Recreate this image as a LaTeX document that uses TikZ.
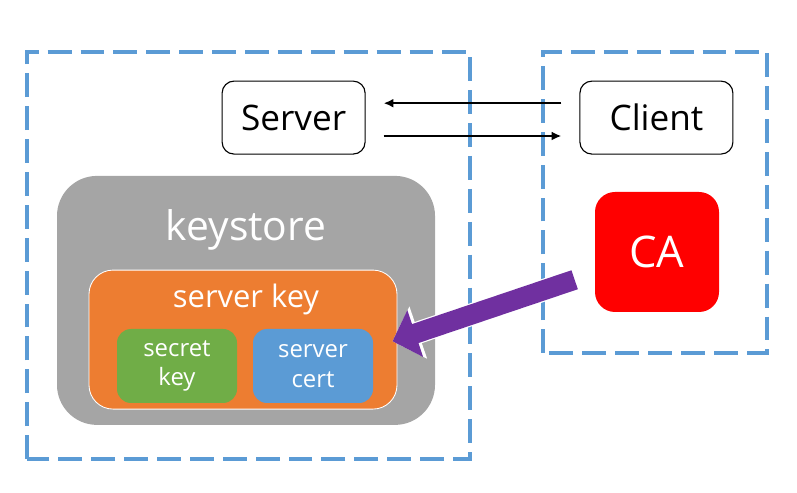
\documentclass[tikz,border=0pt]{standalone}
\usepackage{fontspec}
\setmainfont{Open Sans}
\usetikzlibrary{arrows.meta}
\definecolor{frameblue}{HTML}{5B9BD5}
\definecolor{storegrey}{HTML}{A5A5A5}
\definecolor{keyorange}{HTML}{ED7D31}
\definecolor{secretgreen}{HTML}{70AD47}
\definecolor{certblue}{HTML}{5B9BD5}
\definecolor{cared}{HTML}{FF0000}
\definecolor{certpurple}{HTML}{7030A0}
\begin{document}
\begin{tikzpicture}[
	frame/.style={draw=frameblue, line width=2.2pt, dash pattern=on 17pt off 6.4pt},
	hostbox/.style={rectangle, draw, line width=0.8pt, rounded corners=0.3cm, minimum height=1.825cm, inner sep=0pt, font=\fontsize{25}{30}\selectfont},
	keystorebox/.style={rectangle, fill=storegrey, rounded corners=1cm, minimum width=9.45cm, minimum height=6.225cm, inner sep=0pt},
	serverkeybox/.style={rectangle, fill=keyorange, draw=white, line width=0.6pt, rounded corners=0.6cm, minimum width=7.7cm, minimum height=3.475cm, inner sep=0pt},
	leafbox/.style={rectangle, rounded corners=0.35cm, minimum width=3cm, minimum height=1.85cm, inner sep=0pt, align=center, text=white, font=\fontsize{17}{21}\selectfont},
	cabox/.style={rectangle, fill=cared, rounded corners=0.5cm, minimum width=3.1cm, minimum height=3cm, inner sep=0pt, text=white, font=\fontsize{31}{36}\selectfont},
	title/.style={anchor=base, text=white, inner sep=0pt},
	msg/.style={-{Latex[length=0.24cm,width=0.22cm]}, line width=1.3pt, shorten <=0.45cm, shorten >=0.45cm},
	certarrow/.style={draw=certpurple, line width=0.5cm, -{Triangle[length=0.6cm,width=1.2cm]}, shorten <=0.53cm, shorten >=-0.13cm,
		preaction={draw=white, line width=0.56cm, -{Triangle[length=0.68cm,width=1.34cm]}}}
]
	\useasboundingbox (0,0) rectangle (19.925,12.3);
	\draw[frame] (0.675,0.825) rectangle (11.75,11.0);
	\draw[frame] (13.575,3.475) rectangle (19.175,11.0);
	\draw (7.34, 9.36) node[hostbox, minimum width=3.575cm] (Server) {Server};
	\draw (16.41,9.36) node[hostbox, minimum width=3.825cm] (Client) {Client};
	\draw (6.15, 4.79) node[keystorebox] (KS) {};
	\draw (6.15, 6.275) node[title, font=\fontsize{29}{34}\selectfont] (KStitle) {keystore};
	\draw (6.075,3.81) node[serverkeybox] (SK) {};
	\draw (6.15, 4.6) node[title, font=\fontsize{22}{26}\selectfont] (SKtitle) {server key};
	\draw (4.425,3.15) node[leafbox, fill=secretgreen] (Secret) {secret\\key};
	\draw (7.825,3.15) node[leafbox, fill=certblue] (Cert) {server\\cert};
	\draw (16.425,6.0) node[cabox] (CA) {CA};
	\draw ([yshift=0.36cm]Client.west) edge[msg] ([yshift=0.36cm]Server.east);
	\draw ([yshift=-0.46cm]Server.east) edge[msg] ([yshift=-0.46cm]Client.west);
	\draw (CA) edge[certarrow] (SK.east);
\end{tikzpicture}
\end{document}
